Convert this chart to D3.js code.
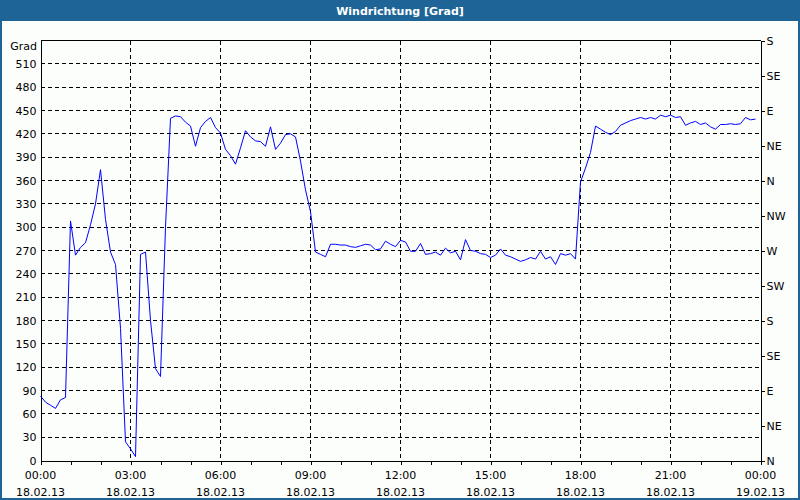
<!DOCTYPE html>
<html>
<head>
<meta charset="utf-8">
<script src="https://cdn.jsdelivr.net/npm/d3@7"></script>
<style>
  body { margin: 0; background: #fff; }
  text { font-family: "DejaVu Sans", sans-serif; font-size: 11px; fill: #000; }
</style>
</head>
<body>
<script>
// wind direction every 10 minutes, 00:00 .. 23:50
var values = [
  83, 75, 71, 67, 78, 81, 308, 264, 274, 280,
  303, 330, 374, 310, 268, 252, 170, 24, 15, 5,
  265, 268, 180, 118, 108, 300, 440, 443, 442, 435,
  430, 404, 428, 436, 441, 428, 421, 400, 392, 381,
  402, 424, 416, 411, 410, 404, 429, 400, 408, 419,
  420, 416, 385, 348, 320, 268, 265, 262, 278, 278,
  277, 277, 275, 274, 276, 278, 277, 271, 272, 282,
  278, 275, 283, 281, 269, 269, 279, 265, 266, 268,
  264, 273, 267, 269, 258, 284, 270, 269, 266, 265,
  261, 264, 272, 264, 262, 259, 256, 258, 261, 259,
  269, 259, 262, 252, 266, 264, 266, 259, 358, 376,
  396, 430, 426, 422, 419, 423, 431, 434, 437, 439,
  441, 439, 441, 439, 444, 442, 444, 441, 442, 431,
  434, 436, 432, 434, 429, 426, 432, 432, 433, 432,
  433, 441, 438, 439
];
var leftTicks = d3.range(0, 511, 30);
var rightTicks = d3.range(0, 541, 45);
var compass = ["N", "NE", "E", "SE", "S", "SW", "W", "NW", "N", "NE", "E", "SE", "S"];
var hourLabels = ["00:00", "03:00", "06:00", "09:00", "12:00", "15:00", "18:00", "21:00", "00:00"];
var dateLabels = ["18.02.13", "18.02.13", "18.02.13", "18.02.13", "18.02.13", "18.02.13", "18.02.13", "18.02.13", "19.02.13"];

var W = 800, H = 500;
var plotL = 40.5, plotR = 760.5, plotT = 40.5, plotB = 460.5;
var blue = "#1e6496";

var svg = d3.select("body").append("svg")
    .attr("width", W)
    .attr("height", H);

// frame and title bar
svg.append("rect").attr("x", 0).attr("y", 0).attr("width", W).attr("height", H).attr("fill", blue);
svg.append("rect").attr("x", 2).attr("y", 21).attr("width", W - 4).attr("height", H - 23).attr("fill", "#fcfefc");
svg.append("text")
    .attr("x", W / 2).attr("y", 14.5)
    .attr("text-anchor", "middle")
    .style("fill", "#fff")
    .style("font-weight", "bold")
    .text("Windrichtung [Grad]");

var x = d3.scaleLinear().domain([0, 24]).range([plotL, plotR]);
var y = d3.scaleLinear().domain([0, 540]).range([plotB, plotT]);

// grid
var grid = svg.append("g").attr("shape-rendering", "crispEdges");
grid.selectAll(".hg")
    .data(leftTicks.filter(function(d) { return d > 0; }))
    .enter().append("line")
    .attr("x1", plotL).attr("x2", plotR)
    .attr("y1", function(d) { return y(d); })
    .attr("y2", function(d) { return y(d); })
    .attr("stroke", "#000")
    .attr("stroke-dasharray", "4,3");
grid.selectAll(".vg")
    .data(d3.range(3, 24, 3))
    .enter().append("line")
    .attr("y1", plotT).attr("y2", plotB)
    .attr("x1", function(d) { return x(d); })
    .attr("x2", function(d) { return x(d); })
    .attr("stroke", "#000")
    .attr("stroke-dasharray", "4,3");

// axes
var leftAxis = d3.axisLeft(y).tickValues(leftTicks).tickSize(0).tickPadding(4);
var gl = svg.append("g").attr("transform", "translate(" + plotL + ",0)").call(leftAxis);

var rightAxis = d3.axisRight(y).tickValues(rightTicks).tickSize(4).tickPadding(2)
    .tickFormat(function(d, i) { return compass[i]; });
var gr = svg.append("g").attr("transform", "translate(" + plotR + ",0)").call(rightAxis);

var bottomAxis = d3.axisBottom(x).tickValues(d3.range(0, 25, 1)).tickSize(4).tickFormat("");
var gb = svg.append("g").attr("transform", "translate(0," + plotB + ")").call(bottomAxis);

[gl, gr, gb].forEach(function(g) {
    g.attr("shape-rendering", "crispEdges");
    g.select(".domain").attr("stroke", "#000");
    g.selectAll(".tick line").attr("stroke", "#000");
    g.selectAll("text").style("font-family", "DejaVu Sans, sans-serif").style("font-size", "11px").attr("fill", "#000");
});

// top frame line
svg.append("line")
    .attr("x1", plotL).attr("x2", plotR).attr("y1", plotT).attr("y2", plotT)
    .attr("stroke", "#000").attr("shape-rendering", "crispEdges");

// time labels
var labs = svg.append("g").selectAll("g")
    .data(hourLabels)
    .enter().append("g")
    .attr("transform", function(d, i) { return "translate(" + x(i * 3) + "," + plotB + ")"; });
labs.append("text").attr("y", 18).attr("text-anchor", "middle").text(function(d) { return d; });
labs.append("text").attr("y", 35).attr("text-anchor", "middle").text(function(d, i) { return dateLabels[i]; });

svg.append("text")
    .attr("x", 37).attr("y", 50)
    .attr("text-anchor", "end")
    .text("Grad");

// the series
var line = d3.line()
    .x(function(d, i) { return x(i / 6); })
    .y(function(d) { return y(d); });

svg.append("path")
    .datum(values)
    .attr("d", line)
    .attr("fill", "none")
    .attr("stroke", "#0000ff")
    .attr("stroke-width", 1);
</script>
</body>
</html>
